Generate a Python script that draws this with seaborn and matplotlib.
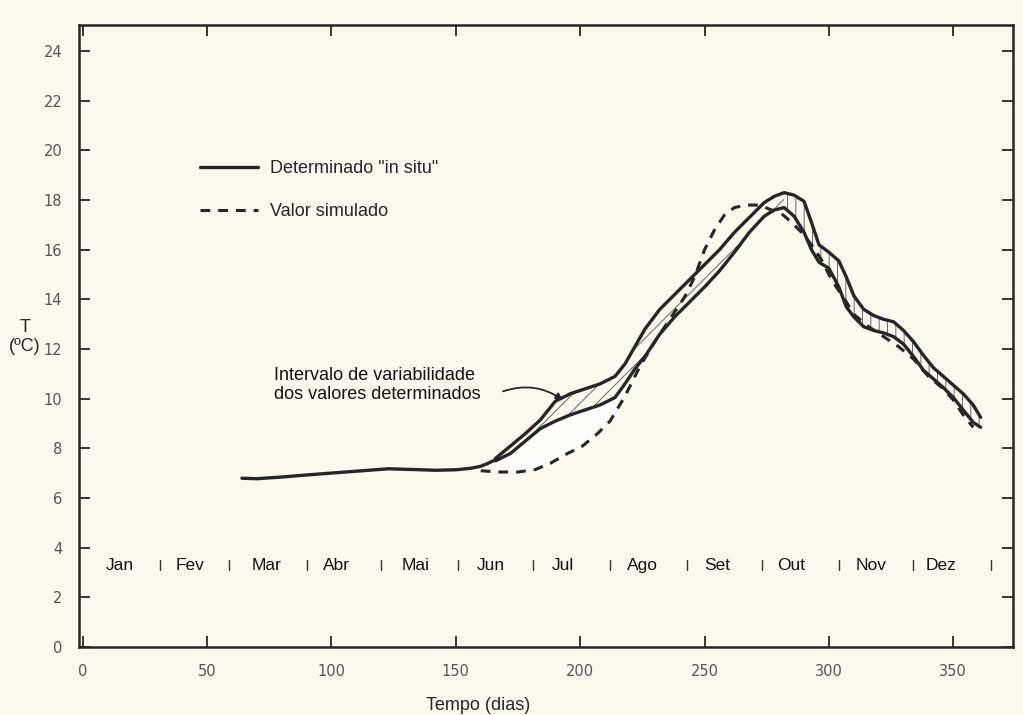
import numpy as np
import pandas as pd
import matplotlib
matplotlib.use("Agg")
import matplotlib.pyplot as plt
import seaborn as sns

# ---- data -------------------------------------------------------------
# single in-situ record (before the variability band opens)
days_insitu = [64, 70, 79, 90, 103, 115, 123, 133, 142, 150, 156, 160, 163, 166]
T_insitu = [6.8, 6.78, 6.84, 6.93, 7.03, 7.12, 7.18, 7.15, 7.12, 7.14, 7.2, 7.28, 7.4, 7.55]

# variability band of the in-situ values
days_band = [166, 172, 178, 184, 190, 196, 202, 208, 214, 218, 222, 226, 232, 238,
             244, 250, 256, 262, 268, 274, 278, 282, 286, 290, 293, 296, 300, 304,
             307, 310, 314, 318, 322, 326, 330, 334, 338, 342, 346, 350, 354, 358, 361]
T_upper = [7.6, 8.1, 8.6, 9.15, 9.9, 10.2, 10.4, 10.6, 10.9, 11.4, 12.1, 12.8, 13.6, 14.2,
           14.8, 15.4, 16.0, 16.7, 17.3, 17.9, 18.15, 18.3, 18.2, 17.95, 17.1, 16.2, 15.9, 15.55,
           14.9, 14.15, 13.6, 13.35, 13.2, 13.1, 12.75, 12.3, 11.75, 11.25, 10.9, 10.55, 10.2, 9.75, 9.25]
T_lower = [7.5, 7.8, 8.3, 8.8, 9.1, 9.35, 9.55, 9.75, 10.05, 10.6, 11.2, 11.7, 12.6, 13.3,
           13.9, 14.5, 15.15, 15.9, 16.7, 17.35, 17.6, 17.7, 17.35, 16.7, 16.0, 15.5, 15.25, 14.5,
           13.7, 13.3, 12.9, 12.75, 12.65, 12.5, 12.2, 11.7, 11.15, 10.8, 10.45, 10.05, 9.55, 9.05, 8.85]

# simulated values
days_sim = [160, 168, 175, 182, 188, 195, 201, 207, 212, 218, 224, 230, 236, 242, 246,
            250, 254, 258, 262, 267, 272, 277, 281, 285, 289, 293, 297, 300, 303, 307,
            310, 316, 322, 328, 334, 340, 346, 350, 354, 358]
T_sim = [7.1, 7.05, 7.05, 7.15, 7.4, 7.8, 8.1, 8.6, 9.1, 10.1, 11.3, 12.3, 13.2, 14.1, 14.9,
         16.0, 16.8, 17.4, 17.7, 17.8, 17.8, 17.6, 17.45, 17.1, 16.7, 16.2, 15.6, 15.0, 14.5, 13.9,
         13.4, 12.9, 12.5, 12.1, 11.6, 10.9, 10.4, 9.95, 9.35, 8.85]

months = ["Jan", "Fev", "Mar", "Abr", "Mai", "Jun", "Jul", "Ago", "Set", "Out", "Nov", "Dez"]
month_label_days = [15, 43, 74, 102, 134, 164, 193, 225, 255, 285, 317, 345]
month_end_days = [31, 59, 90, 120, 151, 181, 212, 243, 273, 304, 334, 365]

x_ticks = [0, 50, 100, 150, 200, 250, 300, 350]
y_ticks = [0, 2, 4, 6, 8, 10, 12, 14, 16, 18, 20, 22, 24]

# ---- style ------------------------------------------------------------
paper = "#fbf9ee"
ink = "#262626"
sns.set_style("ticks")
plt.rcParams["font.family"] = ["Liberation Sans", "DejaVu Sans"]
plt.rcParams["hatch.linewidth"] = 0.7
plt.rcParams["hatch.color"] = "#555555"

fig = plt.figure(figsize=(10.23, 7.15), dpi=100, facecolor=paper)
ax = fig.add_axes([0.0772, 0.095, 0.913, 0.870], facecolor=paper)

insitu = pd.DataFrame({"dia": days_insitu, "T": T_insitu})
band = pd.DataFrame({"dia": days_band, "sup": T_upper, "inf": T_lower})
sim = pd.DataFrame({"dia": days_sim, "T": T_sim})

# pale area between the band and the simulated curve in early summer
gap = band[band["dia"] <= 218]
sim_on_gap = np.interp(gap["dia"], sim["dia"], sim["T"])
ax.fill_between(gap["dia"], sim_on_gap, gap["inf"], color="white", alpha=0.85,
                linewidth=0, zorder=1)

# hatched variability band: oblique while warming, upright while cooling
rise = band["dia"] <= 284
fall = band["dia"] >= 282
ax.fill_between(band["dia"], band["inf"], band["sup"], where=rise, facecolor="none",
                edgecolor="#666666", hatch="//", linewidth=0, zorder=2)
ax.fill_between(band["dia"], band["inf"], band["sup"], where=fall, facecolor="none",
                edgecolor="#666666", hatch="||", linewidth=0, zorder=2)

lw = 2.4
sns.lineplot(data=insitu, x="dia", y="T", ax=ax, color=ink, linewidth=lw,
             label='Determinado "in situ"', zorder=4)
sns.lineplot(data=band, x="dia", y="sup", ax=ax, color=ink, linewidth=lw, zorder=4)
sns.lineplot(data=band, x="dia", y="inf", ax=ax, color=ink, linewidth=lw, zorder=4)
sns.lineplot(data=sim, x="dia", y="T", ax=ax, color=ink, linewidth=2.2,
             linestyle=(0, (3.2, 2.6)), label="Valor simulado", zorder=3)

# month strip
for name, d in zip(months, month_label_days):
    ax.text(d, 3.3, name, ha="center", va="center", fontsize=12.5, color="#111111")
for d in month_end_days:
    ax.plot([d, d], [3.1, 3.5], color="#333333", linewidth=1.0)

# annotation of the band
ax.text(77, 10.55, "Intervalo de variabilidade\ndos valores determinados",
        ha="left", va="center", fontsize=13, linespacing=1.1, color="#111111")
ax.annotate("", xy=(193, 9.95), xytext=(169, 10.3),
            arrowprops=dict(arrowstyle="-|>", color=ink, linewidth=1.3,
                            mutation_scale=10, shrinkA=0, shrinkB=0,
                            connectionstyle="arc3,rad=-0.25"))

# axes
ax.set_xlim(-1.5, 374)
ax.set_ylim(0, 25.05)
ax.set_xticks(x_ticks)
ax.set_yticks(y_ticks)
ax.tick_params(axis="both", direction="in", length=8, width=1.3, color=ink,
               top=True, right=True, labelsize=10.5, labelcolor="#555555", pad=12)
for lab in ax.get_xticklabels() + ax.get_yticklabels():
    lab.set_family(["DejaVu Sans"])
for side in ["left", "right", "top", "bottom"]:
    ax.spines[side].set_visible(True)
    ax.spines[side].set_linewidth(1.8)
    ax.spines[side].set_color(ink)
ax.set_xlabel("")
ax.set_ylabel("")

fig.text(478 / 1023, 1 - 705 / 715, "Tempo (dias)", ha="center", va="center", fontsize=13)
fig.text(25 / 1023, 1 - 337 / 715, "T\n(ºC)", ha="center", va="center", fontsize=13,
         linespacing=1.15)

leg = ax.legend(loc="upper left", bbox_to_anchor=(0.1296, 0.783), frameon=False,
                fontsize=13, handlelength=3.2, handletextpad=0.65, labelspacing=1.45,
                borderpad=0, borderaxespad=0)

fig.savefig("out.png", dpi=100, facecolor=paper)
